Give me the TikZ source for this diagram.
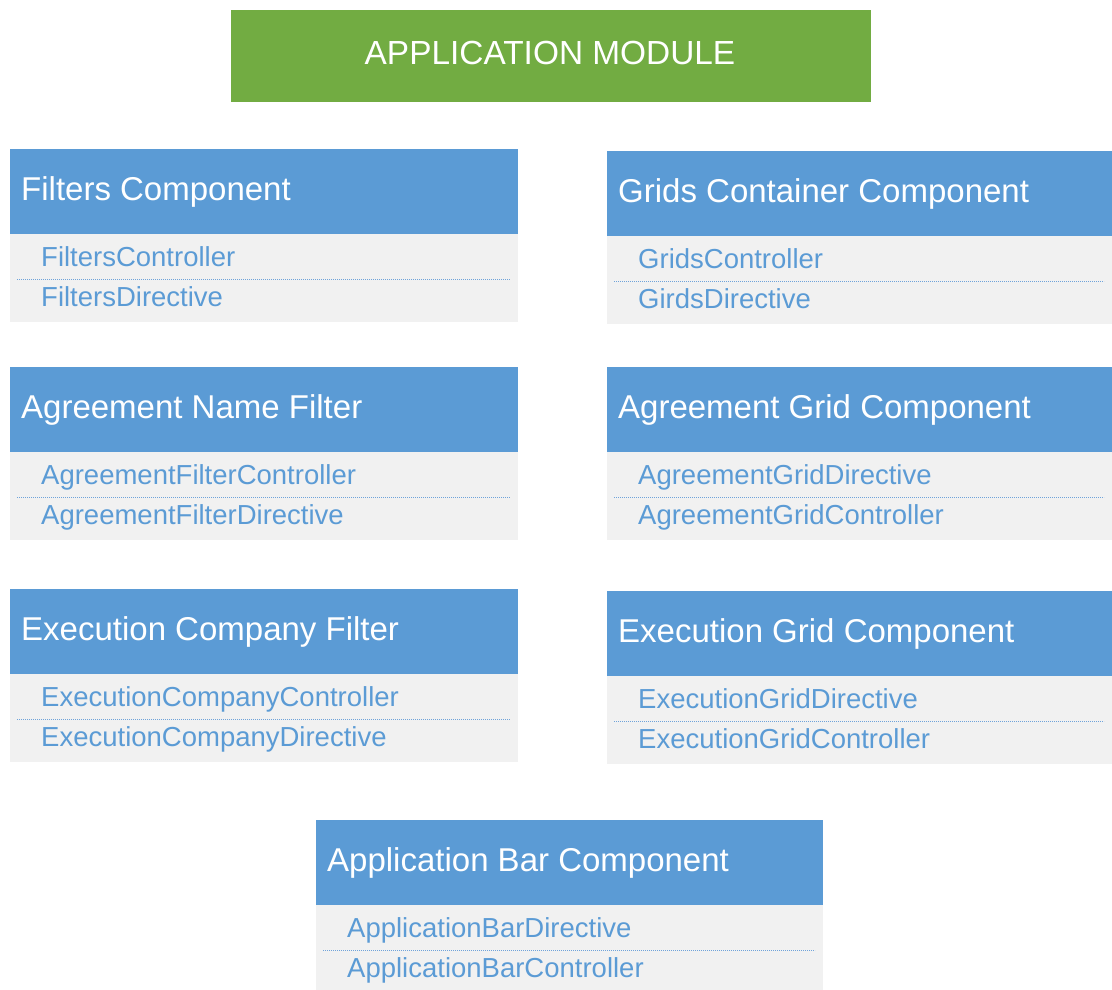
\documentclass[tikz,border=0pt]{standalone}
\usepackage{fontspec}
\setmainfont{Liberation Sans}
\definecolor{hdrblue}{HTML}{5B9BD5}
\definecolor{bodygray}{HTML}{F1F1F1}
\definecolor{itemblue}{HTML}{5B9BD5}
\definecolor{dashblue}{HTML}{6FA3DA}
\definecolor{modgreen}{HTML}{72AC42}
\tikzset{
  hdr/.style={fill=hdrblue, draw=none, inner sep=0pt, anchor=north west},
  bodybox/.style={fill=bodygray, draw=none, inner sep=0pt, anchor=north west},
  ttl/.style={text=white, font=\fontsize{33}{38}\selectfont, inner sep=0pt, anchor=base west},
  itm/.style={text=itemblue, font=\fontsize{27.5}{32}\selectfont, inner sep=0pt, anchor=base west},
  sep/.style={draw=dashblue, line width=0.9pt, dash pattern=on 1.2pt off 0.8pt},
}
\newcommand{\compbox}[7]{%
  % #1 name, #2 x, #3 y, #4 width, #5 title, #6 item1, #7 item2
  \node[hdr, minimum width=#4pt, minimum height=85pt] (#1h) at (#2,#3) {};
  \node[bodybox, minimum width=#4pt, minimum height=88pt] (#1b) at (#2,#3+85) {};
  \node[ttl] (#1t) at (#2+11,#3+51) {#5};
  \node[itm] (#1i) at (#2+31,#3+117) {#6};
  \node[itm] (#1j) at (#2+31,#3+157) {#7};
  \coordinate (#1sl) at (#2+7,#3+130);
  \coordinate (#1sr) at (#2+#4-8,#3+130);
  \draw[sep] (#1sl) -- (#1sr);
}
\begin{document}
\begin{tikzpicture}[x=1pt,y=-1pt]
\useasboundingbox[fill=white] (0,0) rectangle (1112,990);
\node[fill=modgreen, inner sep=0pt, anchor=north west, minimum width=640pt, minimum height=92pt] (mod) at (231,10) {};
\node[text=white, font=\fontsize{33.4}{38}\selectfont, inner sep=0pt, anchor=base] (modt) at (550,65) {APPLICATION MODULE};
\compbox{fc}{10}{149}{508}{Filters Component}{FiltersController}{FiltersDirective}
\compbox{gc}{607}{151}{505}{Grids Container Component}{GridsController}{GirdsDirective}
\compbox{an}{10}{367}{508}{Agreement Name Filter}{AgreementFilterController}{AgreementFilterDirective}
\compbox{ag}{607}{367}{505}{Agreement Grid Component}{AgreementGridDirective}{AgreementGridController}
\compbox{ec}{10}{589}{508}{Execution Company Filter}{ExecutionCompanyController}{ExecutionCompanyDirective}
\compbox{eg}{607}{591}{505}{Execution Grid Component}{ExecutionGridDirective}{ExecutionGridController}
\compbox{ab}{316}{820}{507}{Application Bar Component}{ApplicationBarDirective}{ApplicationBarController}
\end{tikzpicture}
\end{document}
